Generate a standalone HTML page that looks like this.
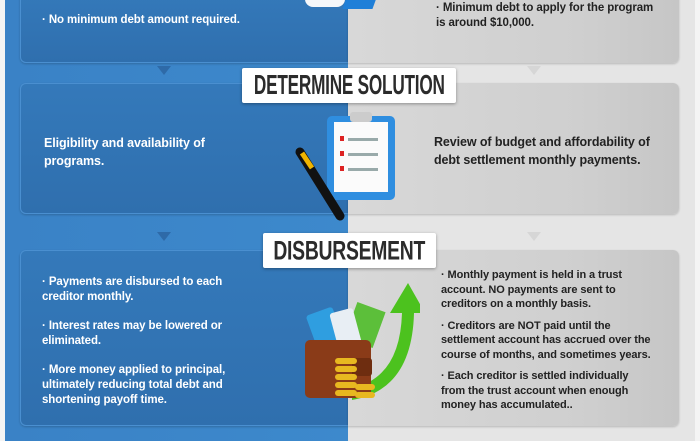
<!DOCTYPE html>
<html><head><meta charset="utf-8"><style>
*{margin:0;padding:0;box-sizing:border-box}
body{width:700px;height:441px;overflow:hidden;background:#f4f4f4;font-family:"Liberation Sans",Arial,sans-serif;position:relative}
.abs{position:absolute}
.bluebg{left:5px;top:0;width:343px;height:441px;background:linear-gradient(90deg,#3a82c6,#3d89cc)}
.greybg{left:348px;top:0;width:347px;height:441px;background:#e5e5e5}
.pl{background:linear-gradient(180deg,#3479ba,#2f6fae);border:1px solid #4a8fd0;border-right:none;border-radius:6px 0 0 6px;box-shadow:0 1px 2px rgba(0,0,0,.2)}
.pr{background:linear-gradient(90deg,#d8d8d8,#cfcfcf 70%,#c6c6c6);border-radius:0 6px 6px 0;box-shadow:0 1px 2px rgba(0,0,0,.2)}
.t{font-weight:bold;font-size:11.5px;line-height:15px;letter-spacing:-0.1px}
.w{color:#fff}.d{color:#222}
.label{background:#fff;box-shadow:0 1px 3px rgba(0,0,0,.35);font-family:"Liberation Sans",sans-serif;font-weight:bold;color:#2b2b2b;text-align:center;border-radius:2px;white-space:nowrap;overflow:hidden;display:flex;align-items:center;justify-content:center}
.label span{display:inline-block;letter-spacing:-0.3px}
.arr{width:0;height:0;border-left:7px solid transparent;border-right:7px solid transparent}
</style></head><body>
<div class="abs bluebg"></div>
<div class="abs greybg"></div>

<div class="abs pl" style="left:20px;top:-8px;width:328px;height:71px"></div>
<div class="abs pr" style="left:348px;top:-8px;width:331px;height:71px"></div>
<div class="abs" style="left:300px;top:0;width:80px;height:10px">
<div class="abs" style="left:5px;top:-8px;width:40px;height:15px;background:#f5f7fa;border-radius:0 0 8px 8px"></div>
<div class="abs" style="left:45px;top:-5px;width:30px;height:14px;background:#1f7fd8;transform:skewX(-20deg)"></div></div>
<div class="abs t w" style="left:42px;top:13px">· No minimum debt amount required.</div>
<div class="abs t d" style="left:436px;top:1px;width:228px">· Minimum debt to apply for the program is around $10,000.</div>

<div class="abs arr" style="left:157px;top:66px;border-top:9px solid #2e6aa8"></div>
<div class="abs arr" style="left:527px;top:66px;border-top:9px solid #d6d6d6"></div>

<div class="abs pl" style="left:20px;top:83px;width:328px;height:131px"></div>
<div class="abs pr" style="left:348px;top:83px;width:331px;height:131px"></div>
<svg class="abs" style="left:290px;top:110px" width="110" height="120">
<rect x="37" y="6" width="68" height="84" rx="5" fill="#2f8ee0"/>
<rect x="44" y="12" width="54" height="70" fill="#fbfbfb"/>
<rect x="60" y="2" width="22" height="10" rx="3" fill="#ccc"/>
<g fill="#9aa"><rect x="58" y="28" width="30" height="3"/><rect x="58" y="43" width="30" height="3"/><rect x="58" y="58" width="30" height="3"/></g>
<g fill="#d22"><rect x="50" y="26" width="4" height="5"/><rect x="50" y="41" width="4" height="5"/><rect x="50" y="56" width="4" height="5"/></g>
<line x1="10" y1="42" x2="50" y2="106" stroke="#111" stroke-width="9" stroke-linecap="round"/>
<line x1="12" y1="43" x2="22" y2="58" stroke="#f0b400" stroke-width="5"/>
</svg>
<div class="abs label" style="left:242px;top:68px;width:214px;height:35px;font-size:21px"><span style="transform:scale(0.82,1.3)">DETERMINE SOLUTION</span></div>
<div class="abs t w" style="left:44px;top:134px;width:200px;font-size:12.5px;line-height:18px">Eligibility and availability of programs.</div>
<div class="abs t d" style="left:434px;top:133px;width:240px;font-size:12.5px;line-height:18px">Review of budget and affordability of debt settlement monthly payments.</div>

<div class="abs arr" style="left:157px;top:232px;border-top:9px solid #2e6aa8"></div>
<div class="abs arr" style="left:527px;top:232px;border-top:9px solid #d6d6d6"></div>

<div class="abs pl" style="left:20px;top:250px;width:328px;height:176px"></div>
<div class="abs pr" style="left:348px;top:250px;width:331px;height:176px"></div>
<div class="abs label" style="left:263px;top:233px;width:173px;height:35px;font-size:22px"><span style="transform:scale(0.88,1.2)">DISBURSEMENT</span></div>
<div class="abs t w" style="left:42px;top:275px;width:200px">· Payments are disbursed to each creditor monthly.<div style="height:14px"></div>· Interest rates may be lowered or eliminated.<div style="height:14px"></div>· More money applied to principal, ultimately reducing total debt and shortening payoff time.</div>
<div class="abs t d" style="left:441px;top:268px;width:210px;font-size:11px;line-height:14.5px">· Monthly payment is held in a trust account. NO payments are sent to creditors on a monthly basis.<div style="height:7px"></div>· Creditors are NOT paid until the settlement account has accrued over the course of months, and sometimes years.<div style="height:7px"></div>· Each creditor is settled individually from the trust account when enough money has accumulated..</div>
<svg class="abs" style="left:290px;top:278px" width="130" height="130">
<path d="M62 110 Q110 100 112 35 L100 35 L118 5 L135 35 L124 35 Q122 112 62 122 Z" fill="#4cc21e"/>
<rect x="60" y="28" width="30" height="38" fill="#5cbf3a" transform="rotate(20 75 47)"/>
<rect x="22" y="32" width="28" height="42" rx="3" fill="#2f9ee0" transform="rotate(-20 36 53)"/>
<rect x="44" y="32" width="24" height="40" rx="3" fill="#e8eef4" transform="rotate(-15 56 52)"/>
<rect x="15" y="62" width="66" height="58" rx="5" fill="#8a3b18"/>
<rect x="62" y="80" width="20" height="18" rx="3" fill="#6e2d10"/>
<g fill="#e8b820"><rect x="45" y="80" width="22" height="6" rx="3"/><rect x="45" y="88" width="22" height="6" rx="3"/><rect x="45" y="96" width="22" height="6" rx="3"/><rect x="45" y="104" width="22" height="6" rx="3"/><rect x="45" y="112" width="22" height="6" rx="3"/><rect x="65" y="106" width="20" height="6" rx="3"/><rect x="65" y="114" width="20" height="6" rx="3"/></g>
</svg>
</body></html>
